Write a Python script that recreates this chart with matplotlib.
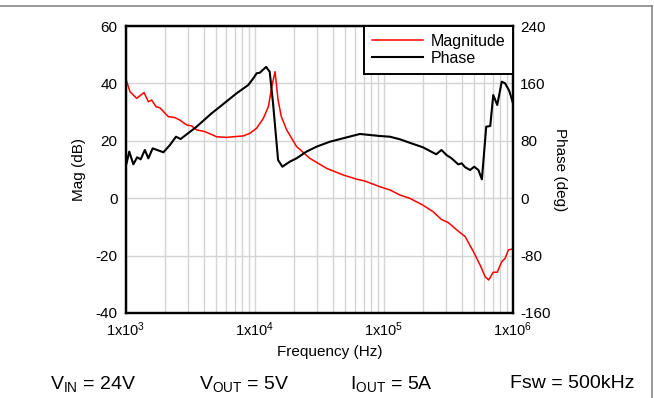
"""
Loop gain Bode plot: magnitude and phase vs frequency.
"""

import numpy as np
import matplotlib.pyplot as plt
from matplotlib.lines import Line2D
from matplotlib.ticker import FixedLocator, LogLocator, NullFormatter

plt.rcParams.update(
    {
        "font.family": ["Liberation Sans", "DejaVu Sans"],
        "mathtext.fontset": "custom",
        "mathtext.rm": "Liberation Sans",
        "mathtext.it": "Liberation Sans",
        "mathtext.default": "regular",
        "axes.unicode_minus": False,
    }
)

mag_freq = [
    1.0e3, 1.074e3, 1.21e3, 1.38e3, 1.49e3, 1.58e3, 1.71e3, 1.83e3, 2.13e3,
    2.39e3, 2.62e3, 2.96e3, 3.23e3, 3.53e3, 4.09e3, 5.05e3, 6.04e3, 6.79e3,
    8.1e3, 9.13e3, 10.3e3, 11.6e3, 12.7e3, 13.5e3, 14.3e3, 15.1e3, 16.0e3,
    17.6e3, 21.0e3, 26.6e3, 35.9e3, 48.2e3, 61.6e3, 71.0e3, 92.8e3, 111e3,
    133e3, 158e3, 200e3, 240e3, 279e3, 315e3, 355e3, 389e3, 426e3, 493e3,
    556e3, 609e3, 648e3, 703e3, 755e3, 818e3, 868e3, 922e3, 1.0e6,
]
mag_db = [
    41.4, 37.1, 34.8, 36.8, 33.6, 34.2, 31.9, 31.5, 28.4,
    28.1, 27.2, 25.5, 25.2, 23.8, 23.2, 21.4, 21.2, 21.4,
    21.7, 22.6, 24.4, 27.8, 31.9, 38.9, 44.1, 34.2, 28.4,
    23.8, 18.0, 13.9, 10.4, 8.1, 6.6, 6.0, 4.0, 2.9,
    1.1, 0.0, -2.4, -4.7, -7.4, -8.5, -10.5, -12.0, -13.4, -18.6,
    -23.3, -27.4, -28.5, -25.8, -25.8, -22.1, -21.0, -18.0, -17.7,
]

phase_freq = [
    1.01e3, 1.06e3, 1.14e3, 1.22e3, 1.30e3, 1.40e3, 1.49e3, 1.61e3, 1.95e3,
    2.19e3, 2.44e3, 2.65e3, 3.53e3, 4.61e3, 5.35e3, 7.2e3, 8.87e3, 9.71e3,
    10.3e3, 10.9e3, 12.2e3, 13.0e3, 13.8e3, 15.1e3, 16.3e3, 18.6e3, 21e3,
    25e3, 29.9e3, 38e3, 48.2e3, 65e3, 92.8e3, 111e3, 133e3, 158e3, 200e3,
    254e3, 279e3, 305e3, 334e3, 376e3, 400e3, 426e3, 465e3, 500e3, 539e3,
    574e3, 620e3, 666e3, 703e3, 755e3, 818e3, 868e3, 935e3, 1.0e6,
]
phase_deg = [
    48.6, 65.0, 47.2, 57.0, 54.2, 67.2, 55.6, 69.5, 64.0,
    74.1, 85.7, 82.5, 99.7, 118.3, 127.5, 146.2, 157.8, 167.1,
    174.1, 174.9, 183.0, 176.3, 132.3, 53.2, 43.9, 50.9, 55.6,
    64.8, 71.7, 78.7, 83.5, 89.5, 86.7, 85.7, 82.1, 77.3, 71.0,
    61.2, 67.2, 60.2, 55.6, 47.2, 48.6, 43.1, 39.3, 43.9, 39.3,
    26.3, 99.7, 100.6, 143.8, 129.9, 162.4, 160.1, 149.8, 132.3,
]

mag_ticks = [-40, -20, 0, 20, 40, 60]
phase_ticks = [-160, -80, 0, 80, 160, 240]
freq_ticks = [1e3, 1e4, 1e5, 1e6]
freq_labels = ["1x10$^{3}$", "1x10$^{4}$", "1x10$^{5}$", "1x10$^{6}$"]

fig = plt.figure(figsize=(6.54, 3.98), dpi=100)
ax = fig.add_axes([126 / 654, 1 - 313 / 398, 387 / 654, 287 / 398])

ax.set_xscale("log")
ax.set_xlim(1e3, 1e6)
ax.set_ylim(-40, 60)
ax.xaxis.set_major_locator(FixedLocator(freq_ticks))
ax.set_xticklabels(freq_labels)
ax.xaxis.set_minor_locator(LogLocator(base=10, subs=np.arange(2, 10)))
ax.xaxis.set_minor_formatter(NullFormatter())
ax.set_yticks(mag_ticks)
ax.grid(True, which="both", color="#d4d4d4", linewidth=1.0)
ax.set_axisbelow(True)
ax.tick_params(axis="y", length=0, labelsize=11, pad=6)
ax.tick_params(axis="x", which="both", length=0, labelsize=10.5, pad=5)
for s in ax.spines.values():
    s.set_linewidth(1.6)

(mag_line,) = ax.plot(mag_freq, mag_db, color="#ff0000", lw=1.1, label="Magnitude")
ax.set_ylabel("Mag (dB)", fontsize=11, va="center")
ax.yaxis.set_label_coords(-(126 - 79) / 387, 0.5)
ax.set_xlabel("Frequency (Hz)", fontsize=11, va="center")
ax.xaxis.set_label_coords((330 - 126) / 387, -(352 - 313) / 287)

ax2 = ax.twinx()
ax2.set_ylim(-160, 240)
ax2.set_yticks(phase_ticks)
ax2.tick_params(length=0, labelsize=11, pad=5)
for s in ax2.spines.values():
    s.set_linewidth(1.6)
(phase_line,) = ax2.plot(phase_freq, phase_deg, color="black", lw=1.5, label="Phase")
ax2.set_ylabel("Phase (deg)", fontsize=11, rotation=-90, va="center")
ax2.yaxis.set_label_coords((560 - 126) / 387, 0.5)

leg = ax2.legend(
    handles=[mag_line, phase_line],
    loc="upper right",
    bbox_to_anchor=(1.0, 1.0),
    fontsize=11.5,
    frameon=True,
    fancybox=False,
    framealpha=1,
    edgecolor="black",
    borderaxespad=0,
    handlelength=3.2,
    handletextpad=0.45,
    labelspacing=0.13,
    borderpad=0.5,
)
leg.get_frame().set_linewidth(1.4)

conds = [
    (50, "V$_{IN}$ = 24V"),
    (199, "V$_{OUT}$ = 5V"),
    (350, "I$_{OUT}$ = 5A"),
    (510, "Fsw = 500kHz"),
]
for xp, txt in conds:
    fig.text(xp / 654, 1 - 384 / 398, txt, fontsize=14, va="center", ha="left")

# thin gray frame along the top and right edges
fig.add_artist(Line2D([0, 652 / 654], [1 - 6 / 398, 1 - 6 / 398], color="#888888", lw=1.2))
fig.add_artist(Line2D([652 / 654, 652 / 654], [0, 1 - 6 / 398], color="#888888", lw=1.2))

fig.savefig("out.png", dpi=100)
